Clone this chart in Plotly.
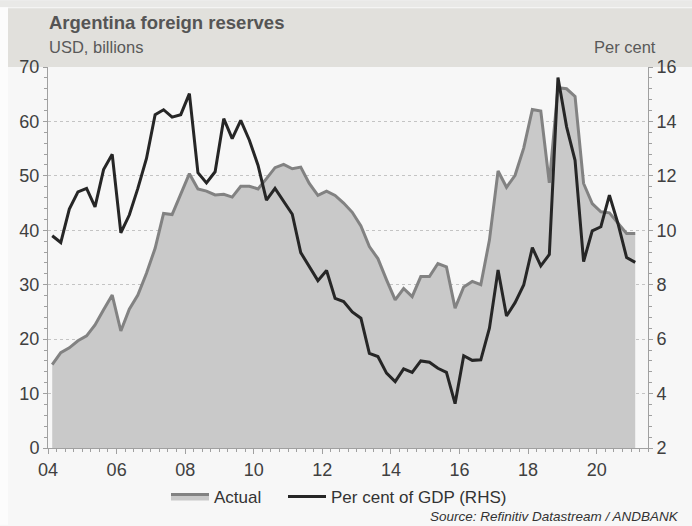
import pandas as pd
import plotly.graph_objects as go

# Quarterly observations, Q1 2004 .. Q1 2021 (plotted at mid-quarter)
quarters = pd.period_range("2004Q1", "2021Q1", freq="Q")
dates = quarters.to_timestamp() + pd.Timedelta(days=45)

# Foreign reserves, USD billions (left axis)
actual = [15.3, 17.5, 18.4, 19.7, 20.6, 22.6, 25.4, 28.1, 21.5, 25.5,
          28.1, 32.1, 36.7, 43.1, 42.9, 46.5, 50.4, 47.6, 47.2, 46.5,
          46.6, 46.1, 48.1, 48.1, 47.6, 49.5, 51.5, 52.1, 51.3, 51.6,
          48.6, 46.4, 47.2, 46.4, 45.0, 43.3, 40.8, 37.0, 34.8, 30.9,
          27.2, 29.3, 27.8, 31.5, 31.5, 33.9, 33.3, 25.7, 29.6, 30.6,
          30.0, 38.2, 50.9, 47.9, 50.1, 55.1, 62.2, 61.9, 48.7, 66.2,
          66.0, 64.6, 48.6, 44.9, 43.4, 43.2, 41.4, 39.4, 39.4]

# Reserves as per cent of GDP (right axis)
gdp_pct = [9.80, 9.55, 10.78, 11.41, 11.54, 10.86, 12.23, 12.79, 9.91, 10.56,
           11.54, 12.64, 14.25, 14.43, 14.16, 14.25, 15.02, 12.12, 11.74, 12.15,
           14.10, 13.37, 14.04, 13.31, 12.39, 11.11, 11.54, 11.05, 10.59, 9.18,
           8.66, 8.15, 8.52, 7.50, 7.38, 7.00, 6.77, 5.48, 5.36, 4.75,
           4.44, 4.91, 4.78, 5.20, 5.15, 4.93, 4.78, 3.63, 5.39, 5.22,
           5.24, 6.40, 8.54, 6.85, 7.34, 7.99, 9.36, 8.69, 9.11, 15.61,
           13.80, 12.57, 8.85, 9.98, 10.13, 11.29, 10.25, 9.00, 8.82]

title_text = "Argentina foreign reserves"
left_unit = "USD, billions"
right_unit = "Per cent"
source_text = "Source: Refinitiv Datastream / ANDBANK"

W, H = 692, 526
ML, MR, MT, MB = 48, 44, 67, 77
PW = W - ML - MR
PH = H - MT - MB


def px_x(p):
    return (p - ML) / PW


def px_y(p):
    return (H - MB - p) / PH


FONT = "Liberation Sans, Arial, sans-serif"
AXC = "#a0a0a0"

fig = go.Figure()
fig.add_trace(go.Scatter(
    x=dates, y=actual, name="Actual", mode="lines",
    fill="tozeroy", fillcolor="#c9c9c9",
    line=dict(color="#828282", width=3), legend="legend",
))
fig.add_trace(go.Scatter(
    x=dates, y=gdp_pct, name="Per cent of GDP (RHS)", mode="lines",
    line=dict(color="#262626", width=3), yaxis="y2", legend="legend2",
))

shapes = [
    # top strip
    dict(type="rect", xref="paper", yref="paper", x0=px_x(0), x1=px_x(W),
         y0=px_y(7), y1=px_y(0), fillcolor="#e9e9e7", line_width=0, layer="below"),
    # header band
    dict(type="rect", xref="paper", yref="paper", x0=px_x(8), x1=px_x(W),
         y0=px_y(MT), y1=px_y(8), fillcolor="#e1e0dc", line_width=0, layer="below"),
    # left white strip
    dict(type="rect", xref="paper", yref="paper", x0=px_x(0), x1=px_x(8),
         y0=px_y(H), y1=px_y(7), fillcolor="#fcfcfc", line_width=0, layer="below"),
]

annotations = [
    dict(text=f"<b>{title_text}</b>", xref="paper", yref="paper",
         x=px_x(47), y=px_y(22), xanchor="left", yanchor="middle", showarrow=False,
         font=dict(family=FONT, size=18.5, color="#555555")),
    dict(text=left_unit, xref="paper", yref="paper",
         x=px_x(47), y=px_y(47), xanchor="left", yanchor="middle", showarrow=False,
         font=dict(family=FONT, size=16.5, color="#595959")),
    dict(text=right_unit, xref="paper", yref="paper",
         x=px_x(658), y=px_y(47), xanchor="right", yanchor="middle", showarrow=False,
         font=dict(family=FONT, size=16.5, color="#595959")),
    dict(text=f"<i>{source_text}</i>", xref="paper", yref="paper",
         x=px_x(681), y=px_y(518), xanchor="right", yanchor="middle", showarrow=False,
         font=dict(family=FONT, size=13.5, color="#333333")),
]

legend_common = dict(orientation="h", yanchor="middle", xanchor="left",
                     bgcolor="rgba(0,0,0,0)", itemwidth=38,
                     font=dict(family=FONT, size=17, color="#333333"))

fig.update_layout(
    width=W, height=H,
    margin=dict(l=ML, r=MR, t=MT, b=MB, pad=0),
    paper_bgcolor="#f7f7f7", plot_bgcolor="#f7f7f7",
    font=dict(family=FONT, size=18, color="#404040"),
    showlegend=True,
    legend=dict(x=px_x(166), y=px_y(497), **legend_common),
    legend2=dict(x=px_x(283), y=px_y(497), **legend_common),
    shapes=shapes, annotations=annotations,
    xaxis=dict(
        type="date", range=["2004-01-01", "2021-07-01"],
        tick0="2004-01-01", dtick="M24", tickformat="%y",
        ticks="outside", ticklen=5, tickcolor=AXC,
        showline=True, linecolor=AXC, linewidth=1,
        showgrid=False, zeroline=False, automargin=False,
        tickfont=dict(size=18, color="#404040"),
        minor=dict(dtick="M3", ticks="outside", ticklen=3, tickcolor=AXC, showgrid=False),
    ),
    yaxis=dict(
        range=[0, 70], dtick=10, tick0=0,
        ticks="outside", ticklen=4, tickcolor=AXC,
        showline=True, linecolor=AXC, linewidth=1,
        showgrid=True, gridcolor="#c4c4c4", griddash="dot", gridwidth=1,
        zeroline=False, automargin=False,
        tickfont=dict(size=18, color="#404040"),
        minor=dict(dtick=2, ticks="outside", ticklen=3, tickcolor=AXC, showgrid=False),
    ),
    yaxis2=dict(
        overlaying="y", side="right",
        range=[2, 16], dtick=2, tick0=2,
        ticks="outside", ticklen=4, tickcolor=AXC,
        showline=True, linecolor=AXC, linewidth=1,
        showgrid=False, zeroline=False, automargin=False,
        tickfont=dict(size=18, color="#404040"),
        minor=dict(dtick=0.4, ticks="outside", ticklen=3, tickcolor=AXC, showgrid=False),
    ),
)

fig.write_html(
    "out.html",
    config={"displayModeBar": False},
    post_script="document.body.style.margin='0';document.body.style.padding='0';",
)
